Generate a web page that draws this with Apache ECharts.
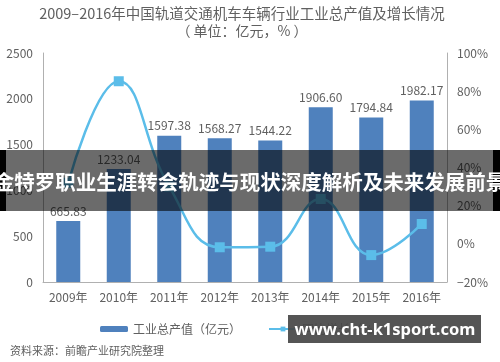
<!DOCTYPE html>
<html>
<head>
<meta charset="utf-8">
<script src="https://cdn.jsdelivr.net/npm/echarts@6/dist/echarts.min.js"></script>
<style>
html,body{margin:0;padding:0;background:#fff;}
#chart{width:500px;height:362px;}
</style>
</head>
<body>
<div id="chart"></div>
<script>
const categories = ['2009年','2010年','2011年','2012年','2013年','2014年','2015年','2016年'];
const outputValues = [665.83, 1233.04, 1597.38, 1568.27, 1544.22, 1906.60, 1794.84, 1982.17];
const growthValues = [32, 85.2, 30, -1.8, -1.5, 23.5, -5.9, 10.4];
const leftTicks = {min: 0, max: 2500, interval: 500};
const rightTicks = {min: -20, max: 100, interval: 20};

const FONT = '"Noto Sans CJK SC", "Noto Sans", sans-serif';
const TXT = '#606060';
const chart = echarts.init(document.getElementById('chart'));
chart.setOption({
  animation: false,
  backgroundColor: '#fff',
  textStyle: {fontFamily: FONT},
  title: [{
    text: '2009–2016年中国轨道交通机车车辆行业工业总产值及增长情况',
    left: 237, top: 1, textAlign: 'center',
    textStyle: {fontSize: 14.5, fontWeight: 'normal', color: TXT, fontFamily: FONT}
  }, {
    text: '（ 单位：亿元，% ）',
    left: 237, top: 19, textAlign: 'center',
    textStyle: {fontSize: 14, fontWeight: 'normal', color: TXT, fontFamily: FONT}
  }],
  grid: {left: 43, right: 53, top: 53, bottom: 80},
  legend: {
    left: 95, top: 318, itemWidth: 28, itemHeight: 6, itemGap: 27,
    textStyle: {fontSize: 12, color: TXT, fontFamily: FONT},
    data: ['工业总产值（亿元）', '同比增长（%）']
  },
  xAxis: {
    type: 'category', data: categories,
    axisLine: {lineStyle: {color: '#b0b0b0', width: 1}},
    axisTick: {show: false},
    axisLabel: {color: TXT, fontSize: 12, margin: 9, fontFamily: FONT}
  },
  yAxis: [{
    type: 'value', min: leftTicks.min, max: leftTicks.max, interval: leftTicks.interval,
    axisLine: {show: true, lineStyle: {color: '#b0b0b0'}},
    axisTick: {show: false},
    splitLine: {show: false},
    axisLabel: {color: TXT, fontSize: 12, margin: 10, fontFamily: FONT,
      formatter: v => String(v)}
  }, {
    type: 'value', min: rightTicks.min, max: rightTicks.max, interval: rightTicks.interval,
    axisLine: {show: true, lineStyle: {color: '#b0b0b0'}},
    axisTick: {show: false},
    splitLine: {show: false},
    axisLabel: {color: TXT, fontSize: 12, margin: 10, fontFamily: FONT,
      formatter: v => String(v).replace('-', '−') + '%'}
  }],
  series: [{
    name: '工业总产值（亿元）', type: 'bar', data: outputValues, barWidth: 24,
    itemStyle: {color: '#4f81bd'},
    label: {show: true, position: 'top', distance: 4, color: TXT, fontSize: 12, fontFamily: FONT,
      formatter: p => p.value.toFixed(2)}
  }, {
    name: '同比增长（%）', type: 'line', yAxisIndex: 1, data: growthValues,
    smooth: 0.45, symbol: 'rect', symbolSize: 10,
    lineStyle: {color: '#5bbde9', width: 2.5},
    itemStyle: {color: '#5bbde9'}, z: 5
  }],
  graphic: [
    {type: 'rect', z: 100, shape: {x: 6, y: 150, width: 487, height: 61}, style: {fill: 'rgba(0,0,0,0.58)'}},
    {type: 'rect', z: 100, shape: {x: 0, y: 150, width: 6, height: 61}, style: {fill: '#000'}},
    {type: 'rect', z: 100, shape: {x: 493, y: 150, width: 7, height: 61}, style: {fill: '#000'}},
    {type: 'text', z: 101, x: 250, y: 182, style: {
      text: '金特罗职业生涯转会轨迹与现状深度解析及未来发展前景',
      fill: '#fff', font: 'bold 20.5px "Noto Sans CJK SC"', textAlign: 'center', textVerticalAlign: 'middle'}},
    {type: 'rect', z: 100, shape: {x: 288, y: 315, width: 193, height: 28}, style: {fill: 'rgba(70,70,70,0.92)'}},
    {type: 'text', z: 101, x: 385, y: 330, style: {
      text: 'www.cht-k1sport.com',
      fill: '#fff', font: 'bold 16.5px "Noto Sans"', textAlign: 'center', textVerticalAlign: 'middle'}},
    {type: 'text', z: 50, left: 10, top: 345, style: {
      text: '资料来源：前瞻产业研究院整理',
      fill: TXT, font: '11px "Noto Sans CJK SC"'}}
  ]
});
</script>
</body>
</html>
